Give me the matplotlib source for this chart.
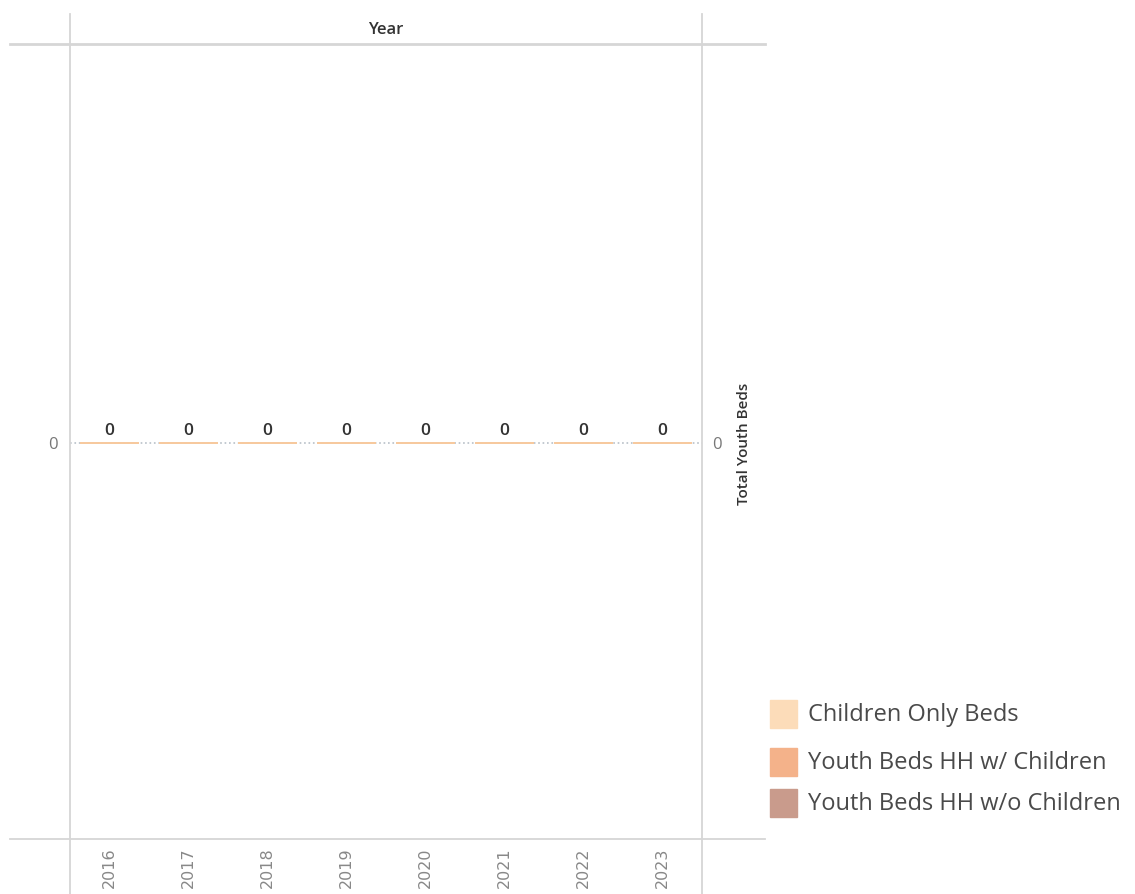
import matplotlib
matplotlib.use("Agg")
import matplotlib.pyplot as plt
from matplotlib.lines import Line2D
from matplotlib.patches import Rectangle

years = ["2016", "2017", "2018", "2019", "2020", "2021", "2022", "2023"]
children_only = [0, 0, 0, 0, 0, 0, 0, 0]
youth_with_children = [0, 0, 0, 0, 0, 0, 0, 0]
youth_without_children = [0, 0, 0, 0, 0, 0, 0, 0]
series_names = ["Children Only Beds", "Youth Beds HH w/ Children",
                "Youth Beds HH w/o Children"]
series_colors = ["#fcdcb9", "#f4b28a", "#c99b8c"]

plt.rcParams['font.family'] = ['Open Sans', 'DejaVu Sans']

W, H = 1135, 895
fig = plt.figure(figsize=(W / 100, H / 100), dpi=100)
fig.patch.set_facecolor("white")


def fx(px):
    return px / W


def fy(py):
    return 1 - py / H


ax = fig.add_axes([fx(70), fy(840), fx(702) - fx(70), fy(45) - fy(840)])
ax.set_xlim(-0.5, len(years) - 0.5)
ax.set_ylim(-0.99, 1)
for s in ax.spines.values():
    s.set_visible(False)
ax.set_xticks([])
ax.set_yticks([])

# dotted zero line
ax.axhline(0, color="#b8c0c8", linestyle=":", lw=1.2, zorder=1)

x = list(range(len(years)))
bottom = [0] * len(years)
for vals, col in zip([youth_without_children, youth_with_children, children_only],
                     [series_colors[2], series_colors[1], series_colors[0]]):
    ax.bar(x, vals, bottom=bottom, width=0.74, color=col, edgecolor="#f7c99e",
           linewidth=1.3, zorder=2)
    bottom = [b + v for b, v in zip(bottom, vals)]

totals = [a + b + c for a, b, c in zip(children_only, youth_with_children,
                                       youth_without_children)]
for xi, t in zip(x, totals):
    ax.annotate(str(t), (xi, t), xytext=(0, 4), textcoords="offset points",
                ha="center", va="bottom", fontsize=12.5, color="#333333",
                fontweight="semibold")

grid = "#d6d6d6"
# frame lines
fig.add_artist(Line2D([fx(10), fx(765)], [fy(45), fy(45)], color=grid, lw=2))
fig.add_artist(Line2D([fx(10), fx(765)], [fy(840), fy(840)], color=grid, lw=1.3))
fig.add_artist(Line2D([fx(70), fx(70)], [fy(15), fy(895)], color=grid, lw=1.3))
fig.add_artist(Line2D([fx(702), fx(702)], [fy(15), fy(895)], color=grid, lw=1.3))

fig.text(fx(386), fy(30), "Year", ha="center", va="center", fontsize=12,
         fontweight="semibold", color="#333333")

# axis ticks
fig.text(fx(53), fy(445), "0", ha="center", va="center", fontsize=12,
         color="#777777")
fig.text(fx(717), fy(445), "0", ha="center", va="center", fontsize=12,
         color="#777777")
fig.text(fx(744), fy(444), "Total Youth Beds", ha="center", va="center",
         rotation=90, fontsize=11, fontweight="semibold", color="#333333")

for i, yr in enumerate(years):
    xp = 70 + (i + 0.5) * (632 / len(years))
    fig.text(fx(xp), fy(868), yr, ha="center", va="center", rotation=90,
             fontsize=11.5, color="#888888", family=["DejaVu Sans"])

# legend
for i, (name, col) in enumerate(zip(series_names, series_colors)):
    yc = [715, 763, 804][i]
    fig.add_artist(Rectangle((fx(770), fy(yc + 14)), fx(27), fy(0) - fy(28),
                             color=col, transform=fig.transFigure))
    fig.text(fx(808), fy(yc), name, ha="left", va="center", fontsize=17,
             color="#4a4a4a")

fig.savefig("out.png", dpi=100)
